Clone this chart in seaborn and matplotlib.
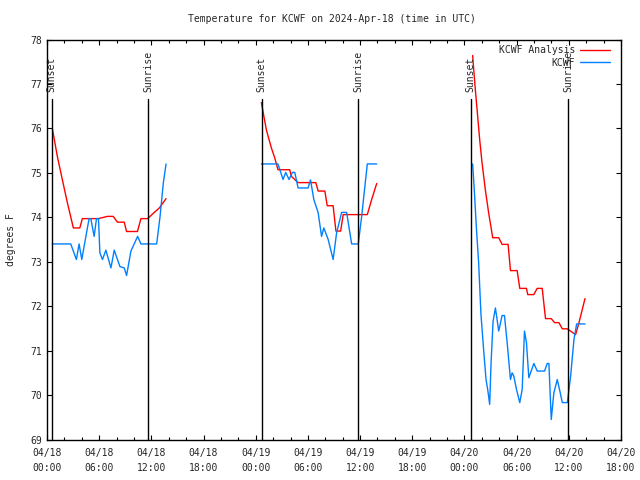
import pandas as pd
import numpy as np
import matplotlib
matplotlib.use('Agg')
import matplotlib.pyplot as plt
import matplotlib.dates as mdates
from matplotlib.lines import Line2D
import seaborn as sns

"""
## Data (hours after 2024-04-18 00:00 UTC, degrees F)
"""

start = pd.Timestamp('2024-04-18 00:00')

# KCWF Analysis (red)
ana1_t = [0.61, 1.19, 1.76, 2.34, 3.03, 3.77, 4.07, 5.92, 6.95, 7.61, 8.1, 8.88, 9.15, 10.4, 10.8, 11.57, 12.34, 12.92, 13.69]
ana1_v = [76.0, 75.37, 74.85, 74.33, 73.76, 73.76, 73.97, 73.97, 74.02, 74.02, 73.89, 73.89, 73.68, 73.68, 73.97, 73.97, 74.11, 74.21, 74.42]
ana2_t = [24.65, 25.22, 25.8, 26.18, 26.56, 27.91, 28.1, 28.87, 30.91, 31.18, 31.95, 32.22, 32.9, 33.22, 33.76, 34.06, 36.83, 37.33, 37.91]
ana2_v = [76.58, 75.97, 75.56, 75.34, 75.07, 75.07, 74.92, 74.78, 74.78, 74.59, 74.59, 74.26, 74.26, 73.69, 73.69, 74.06, 74.06, 74.4, 74.76]
ana3_t = [48.94, 49.25, 49.52, 49.75, 50.02, 50.4, 50.78, 51.25, 51.94, 52.33, 53.02, 53.29, 54.06, 54.36, 55.13, 55.28, 55.97,
          56.36, 56.94, 57.32, 57.98, 58.36, 58.86, 59.25, 59.83, 60.78, 61.17, 61.86]
ana3_v = [77.64, 76.87, 76.27, 75.75, 75.23, 74.62, 74.1, 73.54, 73.54, 73.39, 73.39, 72.8, 72.8, 72.4, 72.4, 72.26, 72.26,
          72.4, 72.4, 71.72, 71.72, 71.63, 71.63, 71.49, 71.49, 71.36, 71.63, 72.17]

# KCWF observations (blue)
obs1_t = [0.61, 2.73, 3.38, 3.69, 4.0, 4.27, 4.84, 5.04, 5.42, 5.69, 5.92, 6.08, 6.38, 6.77, 7.35, 7.73, 8.39, 8.88, 9.15,
          9.65, 10.42, 10.81, 12.61, 13.0, 13.38, 13.69]
obs1_v = [73.4, 73.4, 73.05, 73.4, 73.05, 73.35, 73.97, 73.97, 73.57, 73.97, 73.97, 73.2, 73.05, 73.26, 72.86, 73.26, 72.89,
          72.86, 72.69, 73.24, 73.57, 73.4, 73.4, 74.02, 74.78, 75.2]
obs2_t = [24.65, 26.56, 27.14, 27.45, 27.83, 28.22, 28.49, 28.87, 30.02, 30.3, 30.68, 31.18, 31.57, 31.83, 32.33, 32.9, 33.3,
          33.88, 34.45, 35.03, 35.79, 36.18, 36.83, 37.91]
obs2_v = [75.2, 75.2, 74.85, 75.01, 74.85, 75.01, 75.01, 74.66, 74.66, 74.84, 74.4, 74.1, 73.57, 73.76, 73.5, 73.05, 73.65,
          74.11, 74.11, 73.4, 73.4, 74.02, 75.2, 75.2]
obs3_t = [48.94, 49.13, 49.36, 49.63, 49.9, 50.2, 50.48, 50.67, 50.9, 51.06, 51.29, 51.56, 51.94, 52.33, 52.6, 52.91, 53.29,
          53.48, 53.67, 53.98, 54.36, 54.64, 54.9, 55.13, 55.4, 55.98, 56.37, 57.21, 57.52, 57.71, 57.98, 58.28, 58.67, 58.97,
          59.25, 59.83, 60.21, 60.59, 60.9, 61.86]
obs3_v = [75.2, 74.62, 73.8, 72.98, 71.81, 71.03, 70.35, 70.13, 69.79, 70.73, 71.66, 71.96, 71.44, 71.79, 71.79, 71.18, 70.35,
          70.5, 70.43, 70.13, 69.83, 70.13, 71.44, 71.18, 70.39, 70.71, 70.54, 70.54, 70.71, 70.71, 69.45, 70.05, 70.35, 70.09,
          69.83, 69.83, 70.43, 71.25, 71.6, 71.6]

sun_t = [0.55, 11.65, 24.7, 35.75, 48.7, 59.9]
sun_lab = ['Sunset', 'Sunrise', 'Sunset', 'Sunrise', 'Sunset', 'Sunrise']

def to_time(h):
    return start + pd.to_timedelta(h, unit='h')

"""
## Plot
"""

sns.set_style('ticks')
plt.rcParams['font.family'] = ['DejaVu Sans Mono']
plt.rcParams['font.size'] = 7

fig = plt.figure(figsize=(6.4, 4.8), dpi=100)
ax = fig.add_axes([47/640, 1 - 439.5/480, 574/640, 400/480])

for t, v in [(ana1_t, ana1_v), (ana2_t, ana2_v), (ana3_t, ana3_v)]:
    sns.lineplot(x=to_time(t), y=v, ax=ax, color='#ff0000', lw=1, sort=False)
for t, v in [(obs1_t, obs1_v), (obs2_t, obs2_v), (obs3_t, obs3_v)]:
    sns.lineplot(x=to_time(t), y=v, ax=ax, color='#0080ff', lw=1, sort=False)

for t, lab in zip(sun_t, sun_lab):
    x = to_time(t)
    ax.plot([x, x], [69, 76.65], color='black', lw=1)
    ax.text(x, 76.83, lab, rotation=90, ha='center', va='bottom', fontsize=7)

ax.set_xlim(to_time(0), to_time(66))
ax.set_ylim(69, 78)
ax.set_yticks(range(69, 79))
ax.xaxis.set_major_locator(mdates.HourLocator(byhour=[0, 6, 12, 18]))
ax.xaxis.set_minor_locator(mdates.HourLocator(interval=2))
ax.xaxis.set_major_formatter(mdates.DateFormatter('%m/%d\n%H:%M'))
ax.tick_params(which='both', direction='in', top=True, right=True, color='black', labelsize=7)
ax.tick_params(which='major', length=3.5, width=0.8)
ax.tick_params(which='minor', length=2.2, width=0.8)
ax.tick_params(axis='x', which='major', pad=6)
for lbl in ax.get_xticklabels():
    lbl.set_linespacing(1.6)
for s in ax.spines.values():
    s.set_color('black')
    s.set_linewidth(1)

ax.set_ylabel('degrees F', fontsize=7)
ax.yaxis.set_label_coords(-31/574, 0.5)
ax.set_xlabel('')
fig.text(332/640, 1 - 19/480, 'Temperature for KCWF on 2024-Apr-18 (time in UTC)', ha='center', va='center', fontsize=7)

handles = [Line2D([], [], color='#ff0000', lw=1), Line2D([], [], color='#0080ff', lw=1)]
leg = ax.legend(handles, ['KCWF Analysis', 'KCWF'], loc='upper right', bbox_to_anchor=(1 - 5/574, 1),
                frameon=False, markerfirst=False, fontsize=7, handlelength=3.1, handletextpad=0.5,
                borderaxespad=0.2, labelspacing=0.25)
for txt in leg.get_texts():
    txt.set_ha('right')

fig.savefig('out.png', dpi=100)
